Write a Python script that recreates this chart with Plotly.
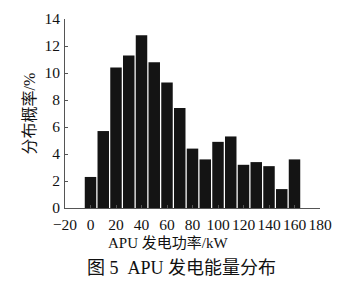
import plotly.graph_objects as go

power_kw = [0, 10, 20, 30, 40, 50, 60, 70, 80, 90, 100, 110, 120, 130, 140, 150, 160]
prob_pct = [2.3, 5.7, 10.4, 11.3, 12.8, 10.8, 9.3, 7.4, 4.4, 3.6, 4.9, 5.3, 3.2, 3.4, 3.1, 1.4, 3.6]
x_ticks = [-20, 0, 20, 40, 60, 80, 100, 120, 140, 160, 180]
y_ticks = [0, 2, 4, 6, 8, 10, 12, 14]

font_fam = "Liberation Serif, Noto Sans CJK SC, serif"

fig = go.Figure(go.Bar(
    x=power_kw, y=prob_pct, width=9.0,
    marker=dict(color="#141414", line=dict(width=0)),
))

fig.update_layout(
    width=352, height=284,
    margin=dict(l=65, r=32, t=10, b=76),
    paper_bgcolor="white", plot_bgcolor="white",
    showlegend=False,
    font=dict(family=font_fam, size=14, color="#111"),
    xaxis=dict(
        range=[-20, 180], tickvals=x_ticks, showline=True, linecolor="#555",
        linewidth=1, ticks="inside", ticklen=3, tickcolor="#555",
        showgrid=False, zeroline=False, tickangle=0, ticklabelstandoff=2,
        tickfont=dict(family=font_fam, size=15.5, color="#111"),
    ),
    yaxis=dict(
        range=[0, 14], tickvals=y_ticks, showline=True, linecolor="#555",
        linewidth=1, ticks="inside", ticklen=3, tickcolor="#555",
        showgrid=False, zeroline=False, ticklabelstandoff=1,
        tickfont=dict(family=font_fam, size=15.5, color="#111"),
        title=dict(text="分布概率/%", standoff=4,
                   font=dict(family=font_fam, size=16, color="#111")),
    ),
    annotations=[
        dict(text="APU 发电功率/kW", xref="paper", yref="paper",
             x=0.404, y=-0.187, xanchor="center", yanchor="middle", showarrow=False,
             font=dict(family=font_fam, size=15, color="#111")),
        dict(text="图 5  APU 发电能量分布", xref="paper", yref="paper",
             x=0.455, y=-0.32, xanchor="center", yanchor="middle", showarrow=False,
             font=dict(family=font_fam, size=18, color="#111")),
    ],
)

fig.write_html("out.html")
